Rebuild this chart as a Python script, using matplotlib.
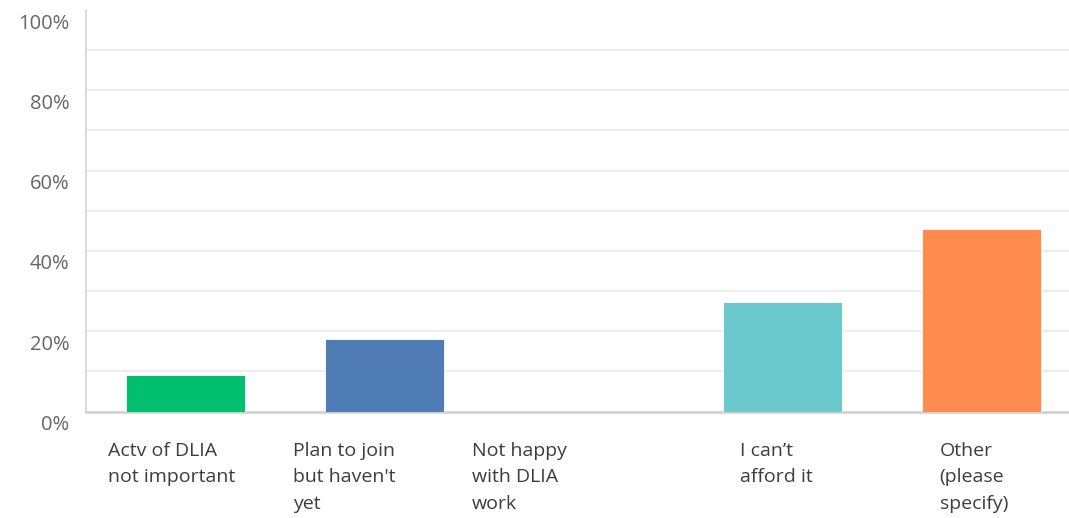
import matplotlib
matplotlib.use('Agg')
import matplotlib.pyplot as plt
import matplotlib.transforms as mtransforms

# answer choices and share of responses (%)
labels = ['Actv of DLIA\nnot important',
          "Plan to join\nbut haven't\nyet",
          'Not happy\nwith DLIA\nwork',
          "I can\u2019t\nafford it",
          'Other\n(please\nspecify)']
pct = [9.09, 18.18, 0.0, 27.27, 45.45]
bar_colors = ['#00BF6F', '#507CB6', '#2DCCD3', '#6BC8CD', '#FF8B4F']
ytick_vals = [0, 20, 40, 60, 80, 100]

plt.rcParams['font.family'] = ['Open Sans', 'DejaVu Sans']

fig = plt.figure(figsize=(10.69, 5.18), dpi=100)
ax = fig.add_axes([86 / 1069, 106.5 / 518, 983 / 1069, 401.5 / 518])

x = list(range(len(pct)))
ax.bar(x, pct, width=0.6, color=bar_colors, edgecolor='white', linewidth=0.6, zorder=3)

ax.set_xlim(-0.5, 4.44)
ax.set_ylim(0, 100)
ax.set_yticks(ytick_vals)
ax.set_yticklabels(['%d%%' % v for v in ytick_vals], fontsize=14.5, color='#666666')
ax.set_yticks([10, 30, 50, 70, 90], minor=True)
ax.tick_params(axis='y', which='both', length=0, pad=12)
ax.tick_params(axis='x', length=0, labelbottom=False)
ax.grid(axis='y', which='both', color='#ebebeb', linewidth=1.2, zorder=0)
ax.yaxis.get_gridlines()[-1].set_visible(False)

# tick labels sit a little below their gridlines
shift = mtransforms.ScaledTranslation(0, -11 / 100, fig.dpi_scale_trans)
for t in ax.get_yticklabels():
    t.set_transform(t.get_transform() + shift)

for s in ['top', 'right']:
    ax.spines[s].set_visible(False)
ax.spines['left'].set_color('#d6d6d6')
ax.spines['left'].set_linewidth(1.2)
ax.spines['bottom'].set_color('#cfcfcf')
ax.spines['bottom'].set_linewidth(1.8)

# category labels, left aligned under each bar
offsets = [-0.39, -0.46, -0.56, -0.215, -0.21]
trans = mtransforms.blended_transform_factory(ax.transData, ax.transAxes)
for i, lab in enumerate(labels):
    ax.text(i + offsets[i], -0.075, lab, transform=trans, ha='left', va='top',
            fontsize=14, color='#3d3d3d', linespacing=1.62)

fig.savefig('out.png', dpi=100)
